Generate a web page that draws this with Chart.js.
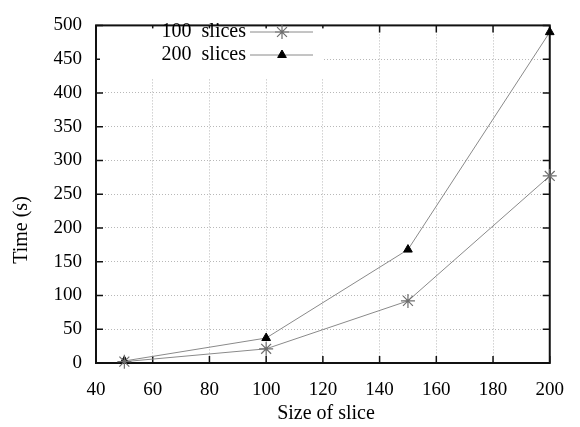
<!DOCTYPE html>
<html>
<head>
<meta charset="utf-8">
<script src="https://cdn.jsdelivr.net/npm/chart.js@4"></script>
<style>
  html, body { margin: 0; padding: 0; background: #fff; }
  canvas { display: block; }
</style>
</head>
<body>
<canvas id="myChart" width="580" height="427"></canvas>
<script>
// data
var sliceSizes = [50, 100, 150, 200];
var time100 = [2, 21, 92, 277];
var time200 = [3, 37, 168, 490];
var seriesNames = ["100  slices", "200  slices"];
var xTicks = [40, 60, 80, 100, 120, 140, 160, 180, 200];
var yTicks = [0, 50, 100, 150, 200, 250, 300, 350, 400, 450, 500];

var serif = "'Liberation Serif', 'DejaVu Serif', serif";
var lineGray = "#8a8a8a";

function toPoints(xs, ys) {
    return xs.map(function(x, i) { return {x: x, y: ys[i]}; });
}

// gnuplot-ish frame: box, inward ticks on all sides, opaque key, axis titles
var frame = {
    id: "frame",
    beforeDatasetsDraw: function(chart) {
        var ctx = chart.ctx;
        var a = chart.chartArea;
        var xs = chart.scales.x, ys = chart.scales.y;
        var tl = 7;
        ctx.save();
        ctx.strokeStyle = "#111";
        ctx.lineWidth = 2;
        ctx.strokeRect(a.left, a.top, a.right - a.left, a.bottom - a.top);
        ctx.lineWidth = 1.5;
        ctx.beginPath();
        xTicks.forEach(function(v) {
            var px = xs.getPixelForValue(v);
            ctx.moveTo(px, a.bottom); ctx.lineTo(px, a.bottom - tl);
            ctx.moveTo(px, a.top); ctx.lineTo(px, a.top + tl);
        });
        yTicks.forEach(function(v) {
            var py = ys.getPixelForValue(v);
            ctx.moveTo(a.left, py); ctx.lineTo(a.left + tl, py);
            ctx.moveTo(a.right, py); ctx.lineTo(a.right - tl, py);
        });
        ctx.stroke();

        // opaque key background
        ctx.fillStyle = "#fff";
        ctx.fillRect(a.left + 4, a.top + 3, 224, 50);
        ctx.restore();
    },
    afterDraw: function(chart) {
        var ctx = chart.ctx;
        ctx.save();
        ctx.fillStyle = "#000";
        ctx.font = "20px " + serif;

        // key
        var rows = [32, 55];
        chart.data.datasets.forEach(function(ds, i) {
            var y = rows[i];
            ctx.textAlign = "right";
            ctx.textBaseline = "middle";
            ctx.fillText(seriesNames[i], 246, y);
            ctx.strokeStyle = lineGray;
            ctx.lineWidth = 1;
            ctx.beginPath();
            ctx.moveTo(250, y); ctx.lineTo(313, y);
            ctx.stroke();
            ctx.fillStyle = ds.pointBackgroundColor;
            ctx.strokeStyle = ds.pointBorderColor;
            ctx.lineWidth = ds.pointBorderWidth;
            Chart.helpers.drawPoint(ctx, {
                pointStyle: ds.pointStyle,
                radius: ds.pointRadius,
                rotation: 0,
                borderWidth: ds.pointBorderWidth
            }, 282, y);
            ctx.fillStyle = "#000";
        });

        // axis titles
        ctx.textAlign = "center";
        ctx.textBaseline = "middle";
        ctx.fillText("Size of slice", 326, 414);
        ctx.translate(22, 230);
        ctx.rotate(-Math.PI / 2);
        ctx.fillText("Time (s)", 0, 0);
        ctx.restore();
    }
};

new Chart("myChart", {
    type: "line",
    data: {
        datasets: [{
            label: seriesNames[0],
            data: toPoints(sliceSizes, time100),
            borderColor: lineGray,
            borderWidth: 1,
            pointStyle: "star",
            pointRadius: 7,
            pointBorderWidth: 1.2,
            pointBorderColor: "#6e6e6e",
            pointBackgroundColor: "#6e6e6e",
            fill: false,
            clip: false
        }, {
            label: seriesNames[1],
            data: toPoints(sliceSizes, time200),
            borderColor: lineGray,
            borderWidth: 1,
            pointStyle: "triangle",
            pointRadius: 5,
            pointBorderWidth: 1,
            pointBorderColor: "#000",
            pointBackgroundColor: "#000",
            fill: false,
            clip: false
        }]
    },
    options: {
        responsive: false,
        animation: false,
        layout: {padding: {top: 13, right: 29, left: 0, bottom: 0}},
        plugins: {
            legend: {display: false},
            tooltip: {enabled: false}
        },
        scales: {
            x: {
                type: "linear",
                min: 40,
                max: 200,
                afterBuildTicks: function(scale) {
                    scale.ticks = xTicks.map(function(v) { return {value: v}; });
                },
                afterFit: function(scale) { scale.height = 64; },
                ticks: {
                    color: "#000",
                    padding: 16,
                    maxRotation: 0,
                    font: {family: serif, size: 19}
                },
                grid: {
                    color: "#b8b8b8",
                    lineWidth: 1,
                    drawTicks: false
                },
                border: {display: false, dash: [1, 2]}
            },
            y: {
                type: "linear",
                min: 0,
                max: 500,
                afterBuildTicks: function(scale) {
                    scale.ticks = yTicks.map(function(v) { return {value: v}; });
                },
                afterFit: function(scale) { scale.width = 96; },
                ticks: {
                    color: "#000",
                    padding: 14,
                    font: {family: serif, size: 19}
                },
                grid: {
                    color: "#b8b8b8",
                    lineWidth: 1,
                    drawTicks: false
                },
                border: {display: false, dash: [1, 2]}
            }
        }
    },
    plugins: [frame]
});
</script>
</body>
</html>
